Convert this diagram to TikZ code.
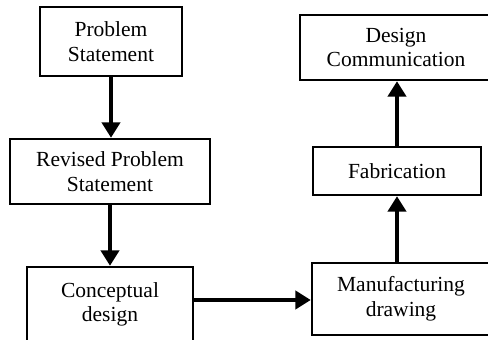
\documentclass[tikz,border=0pt]{standalone}
\usepackage{fontspec}
\setmainfont{Liberation Serif}
\usepackage{tikz}
\usetikzlibrary{arrows,arrows.meta}
\usetikzlibrary{positioning}
\usetikzlibrary{calc}

\tikzset{
	stagebox/.style={draw, line width=1.8pt, align=center, inner sep=0pt,
		font=\fontsize{15.3pt}{17.5pt}\selectfont},
	flowarrow/.style={->, line width=2.6pt}
}

\begin{document}
\begin{tikzpicture}[x=0.025cm, y=-0.025cm, >={Triangle[length=11pt,width=13pt]}]
			\clip (0,0) rectangle (488,340);
			\useasboundingbox (0,0) rectangle (488,340);
			%coordinates
			\coordinate (probC)   at (111,41.5);
			\coordinate (reviC)   at (110,171.5);
			\coordinate (concC)   at (110,304.5);
			\coordinate (commC)   at (396,47.5);
			\coordinate (fabrC)   at (397,171);
			\coordinate (manuC)   at (401,299);
			
			%nodes
			\node[stagebox, minimum width=166*0.025cm, minimum height=75*0.025cm] (conc) at (concC) {Conceptual\\design};
			\node[stagebox, minimum width=142*0.025cm, minimum height=69*0.025cm] (prob) at (probC) {Problem\\Statement};
			\node[stagebox, minimum width=200*0.025cm, minimum height=65*0.025cm] (revi) at (reviC) {Revised Problem\\Statement};
			\node[stagebox, minimum width=192*0.025cm, minimum height=65*0.025cm] (comm) at (commC) {Design\\Communication};
			\node[stagebox, minimum width=168*0.025cm, minimum height=48*0.025cm] (fabr) at (fabrC) {Fabrication};
			\node[stagebox, minimum width=178*0.025cm, minimum height=72*0.025cm] (manu) at (manuC) {Manufacturing\\drawing};
			
			%arrows
			\draw[flowarrow] (prob.south) -- (prob.south |- revi.north);
			\draw[flowarrow] (revi.south) -- (revi.south |- conc.north);
			\draw[flowarrow] ($(conc.east |- manu.west) + (0,1)$) -- ($(manu.west) + (0,1)$);
			\draw[flowarrow] (fabr.south |- manu.north) -- (fabr.south);
			\draw[flowarrow] (fabr.north) -- (fabr.north |- comm.south);
\end{tikzpicture}
\end{document}
